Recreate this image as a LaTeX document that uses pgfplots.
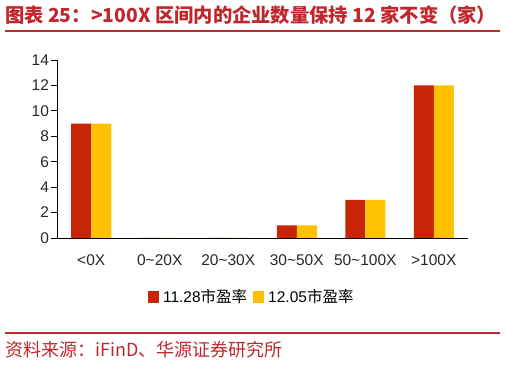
\documentclass[border=0pt]{standalone}
\usepackage{pgfplots}
\pgfplotsset{compat=1.18}
\usepackage{fontspec}
\setmainfont{Liberation Sans}
\newfontfamily\cjk{Noto Sans CJK SC}
\definecolor{barred}{HTML}{C82506}
\definecolor{baryel}{HTML}{FFC000}
\definecolor{hyred}{HTML}{C0272D}
\begin{document}
\begin{tikzpicture}[x=1pt,y=1pt]
\useasboundingbox (0,0) rectangle (506,366);
\node[anchor=base west, inner sep=0, text=hyred, font=\cjk\bfseries\fontsize{19.3}{22}\selectfont] at (5,343) {图表 25：>100X 区间内的企业数量保持 12 家不变（家）};
\draw[hyred, line width=1.5pt] (5,335) -- (500,335);
\draw[hyred, line width=1.2pt] (5,33) -- (500,33);
\node[anchor=base west, inner sep=0, text=hyred, font=\cjk\fontsize{18}{21}\selectfont] at (5,9) {资料来源：iFinD、华源证券研究所};
\begin{axis}[
  at={(57pt,128pt)}, anchor=south west,
  scale only axis, width=411pt, height=178pt,
  ybar=0pt, bar width=20pt,
  xmin=-0.5, xmax=5.5, ymin=0, ymax=14,
  axis x line*=bottom, axis y line*=left,
  axis line style={black, line width=0.8pt, -},
  xtick={0,1,2,3,4,5},
  xticklabels={{<0X},{0\textasciitilde20X},{20\textasciitilde30X},{30\textasciitilde50X},{50\textasciitilde100X},{>100X}},
  x tick style={draw=none},
  extra x ticks={-0.5,0.5,1.5,2.5,3.5,4.5,5.5},
  extra x tick labels={},
  extra x tick style={tick align=outside, major tick length=5pt, tick style={black, line width=0.8pt}},
  xticklabel style={yshift=-7pt},
  ytick={0,2,4,6,8,10,12,14},
  y tick style={black, line width=0.8pt},
  tick align=outside, major tick length=6pt,
  ticklabel style={font=\fontsize{15.5}{17}\selectfont, text=black!85},
  yticklabel style={xshift=1.5pt},
  /pgf/number format/assume math mode=true,
  legend columns=2,
  legend style={at={(0.474,-0.331)}, anchor=center, draw=none, fill=none,
    font=\fontsize{15.5}{17}\selectfont, column sep=4pt,
    /tikz/every odd column/.append style={column sep=2pt}},
  legend image code/.code={\fill[#1] (0pt,-6pt) rectangle (11pt,6pt);},
]
\addplot[fill=barred, draw=none] coordinates {(0,9) (1,0) (2,0) (3,1) (4,3) (5,12)};
\addlegendentry{11.28{\cjk 市盈率}}
\addplot[fill=baryel, draw=none] coordinates {(0,9) (1,0) (2,0) (3,1) (4,3) (5,12)};
\addlegendentry{12.05{\cjk 市盈率}}
\end{axis}
\end{tikzpicture}
\end{document}
